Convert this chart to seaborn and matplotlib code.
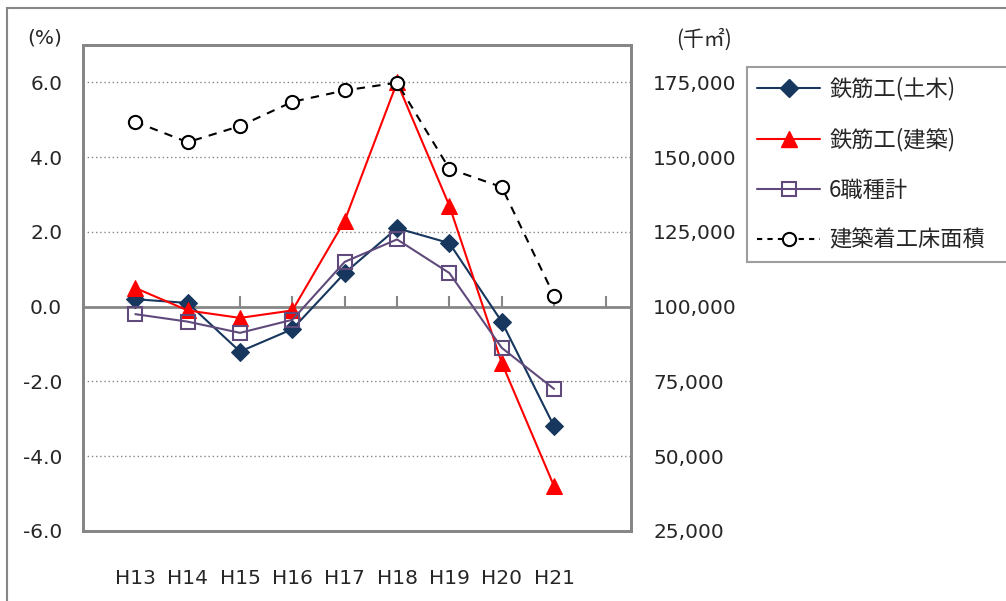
import numpy as np
import pandas as pd
import matplotlib
matplotlib.use("Agg")
import matplotlib.pyplot as plt
import seaborn as sns
from matplotlib.lines import Line2D

# data
years = ["H13", "H14", "H15", "H16", "H17", "H18", "H19", "H20", "H21"]
doboku = [0.2, 0.1, -1.2, -0.6, 0.9, 2.1, 1.7, -0.4, -3.2]       # 鉄筋工(土木) %
kenchiku = [0.5, -0.1, -0.3, -0.1, 2.3, 6.0, 2.7, -1.5, -4.8]    # 鉄筋工(建築) %
total6 = [-0.2, -0.4, -0.7, -0.35, 1.2, 1.8, 0.9, -1.1, -2.2]    # 6職種計 %
floor_area = [161800, 155000, 160400, 168500, 172300, 174900, 146100, 140000, 103700]  # 千㎡

left_ticks = [-6, -4, -2, 0, 2, 4, 6]
left_labels = ["-6.0", "-4.0", "-2.0", "0.0", "2.0", "4.0", "6.0"]
right_ticks = [25000, 50000, 75000, 100000, 125000, 150000, 175000]
right_labels = ["25,000", "50,000", "75,000", "100,000", "125,000", "150,000", "175,000"]

sns.set_style("white")
plt.rcParams['font.family'] = ['DejaVu Sans', 'Noto Sans CJK JP']
plt.rcParams['axes.unicode_minus'] = False

navy = "#17375E"
red = "#FF0000"
purple = "#604A7B"
gray = "#868686"
fs = 14.5
jp = ['Noto Sans CJK JP', 'DejaVu Sans']

fig = plt.figure(figsize=(10.06, 6.01), dpi=100)
ax = fig.add_axes([83/1006, 1-531/601, (631-83)/1006, (531-45)/601])
ax_t = ax.twiny()
ax2 = ax.twinx()
ax.set_zorder(1)
ax2.set_zorder(2)
ax_t.set_zorder(0.5)
ax.patch.set_visible(False)
ax2.patch.set_visible(False)

sns.lineplot(x=years, y=doboku, ax=ax, color=navy, marker="D", markersize=9,
             markeredgecolor=navy, linewidth=1.5, label="鉄筋工(土木)", legend=False)
sns.lineplot(x=years, y=kenchiku, ax=ax, color=red, marker="^", markersize=11,
             markeredgecolor=red, linewidth=1.5, label="鉄筋工(建築)", legend=False)
sns.lineplot(x=years, y=total6, ax=ax, color=purple, marker="s", markersize=9.5,
             markerfacecolor="none", markeredgecolor=purple, markeredgewidth=1.5,
             linewidth=1.5, label="6職種計", legend=False)
sns.lineplot(x=years, y=floor_area, ax=ax2, color="black", marker="o", markersize=9.5,
             markerfacecolor="white", markeredgecolor="black", markeredgewidth=1.5,
             linewidth=1.5, linestyle=(0, (4, 3.5)), label="建築着工床面積", legend=False)

xlim = (-1, 9.47)
ax.set_xlim(xlim)
ax.set_ylim(-6, 7)
ax2.set_ylim(25000, 187500)

ax.set_yticks(left_ticks)
ax.set_yticklabels(left_labels, fontsize=fs)
ax2.set_yticks(right_ticks)
ax2.set_yticklabels(right_labels, fontsize=fs)
ax.set_xticks(range(len(years)))
ax.set_xticklabels(years, fontsize=fs)
ax.tick_params(axis="x", length=0, pad=27)
ax.tick_params(axis="y", length=0, pad=15)
ax2.tick_params(axis="y", length=0, pad=16)
ax.set_xlabel("")

for y in left_ticks[1:]:
    if y != 0:
        ax.axhline(y, color=gray, linestyle=(0, (1, 2)), linewidth=1, zorder=0)

# zero line with small upward ticks
ax_t.set_xlim(xlim)
ax_t.spines["top"].set_position(("data", 0))
ax_t.spines["top"].set_color(gray)
ax_t.spines["top"].set_linewidth(2)
for s in ["left", "right", "bottom"]:
    ax_t.spines[s].set_visible(False)
ax_t.set_xticks(range(10))
ax_t.set_xticklabels([])
ax_t.tick_params(axis="x", direction="out", length=8, width=1.5, color=gray)

for a in (ax, ax2):
    for s in a.spines.values():
        s.set_color(gray)
        s.set_linewidth(2)

fig.text(27/1006, 1-38/601, "(%)", fontsize=fs, va="center", ha="left")
fig.text(676/1006, 1-40/601, "(千㎡)", fontsize=15, va="center", ha="left", family=jp)

handles = [
    Line2D([], [], color=navy, marker="D", markersize=9, linewidth=1.5),
    Line2D([], [], color=red, marker="^", markersize=11, linewidth=1.5),
    Line2D([], [], color=purple, marker="s", markersize=9.5, markerfacecolor="none",
           markeredgewidth=1.5, linewidth=1.5),
    Line2D([], [], color="black", marker="o", markersize=9.5, markerfacecolor="white",
           markeredgewidth=1.5, linewidth=1.5, linestyle=(0, (2.5, 2.5))),
]
labels = ["鉄筋工(土木)", "鉄筋工(建築)", "6職種計", "建築着工床面積"]
leg = fig.legend(handles, labels, loc="center left",
                 bbox_to_anchor=(747/1006, 1-263/601, 270/1006, 197/601),
                 mode="expand", prop={'family': jp, 'size': 16}, frameon=True,
                 fancybox=False, edgecolor=gray, handlelength=2.85, handletextpad=0.4,
                 labelspacing=1.22, borderaxespad=0, borderpad=0.45)
leg.get_frame().set_linewidth(1.5)

fig.add_artist(plt.Rectangle((7/1006, -0.1), 1.2, 1.1-8/601, transform=fig.transFigure,
                             fill=False, edgecolor=gray, linewidth=1.5))

fig.savefig("out.png", dpi=100)
